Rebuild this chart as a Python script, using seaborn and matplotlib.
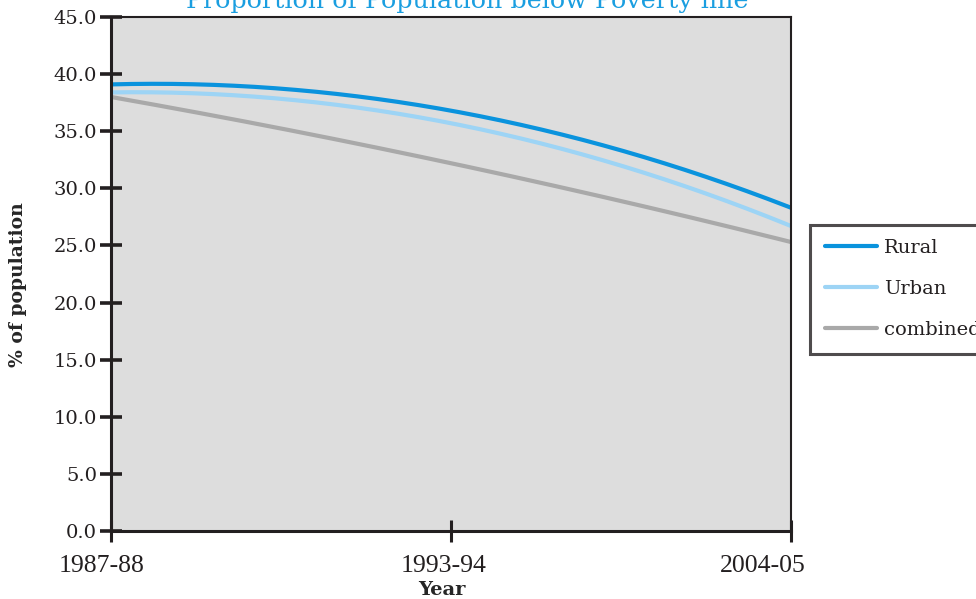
import numpy as np
import pandas as pd
import matplotlib
matplotlib.use("Agg")
import matplotlib.pyplot as plt
import matplotlib.transforms as mtransforms
import seaborn as sns

# Dados
anos = ["1987-88", "1993-94", "2004-05"]
rural = [39.1, 36.8, 28.3]
urbano = [38.4, 35.7, 26.7]
combinado = [38.0, 32.2, 25.3]
series = ["Rural", "Urban", "combined"]
cores = ["#0a93dd", "#9dd4f5", "#a9a9a9"]

sns.set_style("white")

# Curva suavizada (quadrática) através dos três pontos de cada série
pos = np.arange(len(anos))
t = np.linspace(pos[0], pos[-1], 200)
linhas = []
for nome, valores in zip(series, [rural, urbano, combinado]):
    coef = np.polyfit(pos, valores, 2)
    linhas.append(pd.DataFrame({"t": t, "valor": np.polyval(coef, t), "serie": nome}))
df = pd.concat(linhas, ignore_index=True)

fig = plt.figure(figsize=(9.76, 5.99), dpi=100)
ax = fig.add_axes([0.1137, 0.1135, 0.6968, 0.8581])
ax.set_facecolor("#dddddd")

sns.lineplot(data=df, x="t", y="valor", hue="serie", palette=cores,
             linewidth=3, ax=ax, legend=False)

ax.set_xlim(pos[0], pos[-1])
ax.set_ylim(0, 45)
ax.set_xticks(pos)
ax.set_xticklabels(anos, family="Liberation Serif", fontsize=18.5, color="#231f20")
ax.set_yticks(np.arange(0, 46, 5))
ax.set_yticklabels([f"{v:.1f}" for v in np.arange(0, 46, 5)],
                   family="DejaVu Serif", fontsize=14, color="#231f20")

ax.tick_params(axis="y", left=True, direction="inout", length=16, width=2.6, pad=2, color="#231f20")
ax.tick_params(axis="x", bottom=True, direction="inout", length=16, width=2.2, pad=9, color="#231f20")

# os rótulos do eixo x ficam um pouco à esquerda das marcas no original
for lbl, dx in zip(ax.get_xticklabels(), [-9, -7, -28]):
    lbl.set_transform(lbl.get_transform() + mtransforms.ScaledTranslation(dx / 100, 0, fig.dpi_scale_trans))

for lado, lw in [("left", 2.2), ("bottom", 2.2), ("top", 1.5), ("right", 1.5)]:
    ax.spines[lado].set_visible(True)
    ax.spines[lado].set_linewidth(lw)
    ax.spines[lado].set_color("#231f20")

ax.set_xlabel("Year", family="DejaVu Serif", fontweight="bold", fontsize=14)
ax.xaxis.set_label_coords(0.487, -0.097)
ax.set_ylabel("% of population", family="DejaVu Serif", fontweight="bold", fontsize=13.5)
ax.yaxis.set_label_coords(-0.124, 0.48)

handles = ax.get_lines()[:3]
leg = ax.legend(handles, series, loc="upper left", bbox_to_anchor=(1.028, 0.596),
                prop={"family": "DejaVu Serif", "size": 14}, frameon=True, fancybox=False,
                handlelength=2.7, handletextpad=0.35, labelspacing=1.18, borderpad=0.75,
                borderaxespad=0)
leg.get_frame().set_edgecolor("#231f20")
leg.get_frame().set_linewidth(2.2)
for txt in leg.get_texts():
    txt.set_color("#231f20")

fig.text(0.479, 0.9866, "Proportion of Population below Poverty line",
         ha="center", va="baseline", family="DejaVu Serif", fontsize=18.3, color="#1a9ee0")

fig.savefig("out.png", dpi=100)
